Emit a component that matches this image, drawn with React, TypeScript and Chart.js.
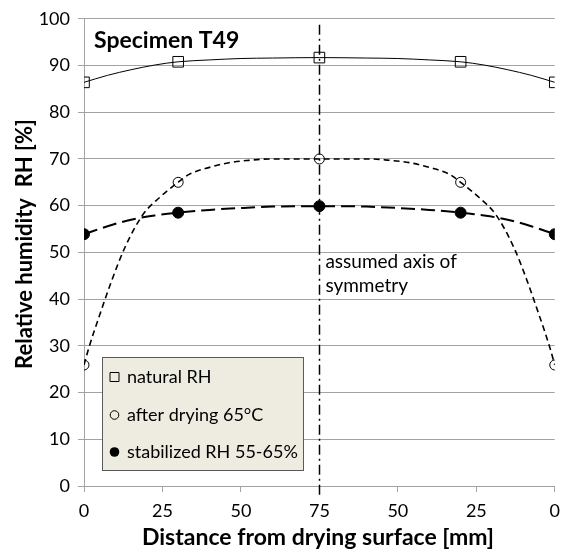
import React, { useEffect, useRef } from 'react';
import { Chart, registerables } from 'chart.js';

Chart.register(...registerables);

// measured points
const markerX = [0, 30, 75, 120, 150];
const naturalRH = [86.4, 90.8, 91.7, 90.8, 86.4];
const afterDrying = [25.9, 65.0, 70.0, 65.0, 25.9];
const stabilizedRH = [53.9, 58.5, 59.9, 58.5, 53.9];

// fitted curves
const smoothX = [0, 7.5, 15, 22.5, 30, 40, 50, 60, 75, 90, 100, 110, 120, 127.5, 135, 142.5, 150];
const naturalCurve = [86.4, 87.9, 89.1, 90.1, 90.8, 91.2, 91.5, 91.6, 91.7, 91.6, 91.5, 91.2, 90.8, 90.1, 89.1, 87.9, 86.4];
const stabilizedCurve = [53.9, 55.6, 57.0, 57.9, 58.5, 59.1, 59.5, 59.8, 59.9, 59.8, 59.5, 59.1, 58.5, 57.9, 57.0, 55.6, 53.9];
const dryingX = [0, 1.6, 5.1, 8.8, 13, 18.8, 24, 30, 33.5, 40, 46.2, 52.5, 59, 75, 91, 97.5, 103.8, 110, 116.5, 120, 126, 131.2, 137, 141.2, 144.9, 148.4, 150];
const dryingCurve = [25.9, 29.7, 36.8, 43.9, 51.0, 58.1, 61.7, 65.0, 66.7, 68.2, 69.2, 69.7, 70.0, 70.0, 70.0, 69.7, 69.2, 68.2, 66.7, 65.0, 61.7, 58.1, 51.0, 43.9, 36.8, 29.7, 25.9];

const xTickValues = [0, 25, 50, 75, 100, 125, 150];
const xTickLabels = ['0', '25', '50', '75', '50', '25', '0'];
const legendLabels = ['natural RH', 'after drying 65°C', 'stabilized RH 55-65%'];
const symmetryX = 75;
const titleText = 'Specimen T49';
const annotationLines = ['assumed axis of', 'symmetry'];
const xTitle = 'Distance from drying surface [mm]';
const yTitle = 'Relative humidity  RH [%]';

const FONT = 'Lato, "Open Sans", sans-serif';
const GRID = '#a3a3a3';

const toPts = (xs: number[], ys: number[]) => xs.map((x, i) => ({ x, y: ys[i] }));

const decorPlugin = {
  id: 'decor',
  beforeDatasetsDraw(chart: any) {
    const { ctx, scales, chartArea } = chart;
    const x = Math.round(scales.x.getPixelForValue(symmetryX)) + 0.5;
    ctx.save();
    ctx.strokeStyle = '#000';
    ctx.lineWidth = 1.5;
    ctx.setLineDash([10, 4, 2, 4]);
    ctx.beginPath();
    ctx.moveTo(x, scales.y.getPixelForValue(98.7));
    ctx.lineTo(x, chartArea.bottom + 12);
    ctx.stroke();
    ctx.restore();
  },
  afterDatasetsDraw(chart: any) {
    const { ctx, scales, chartArea } = chart;
    ctx.save();
    // title
    ctx.fillStyle = '#000';
    ctx.font = `bold 23px ${FONT}`;
    ctx.textBaseline = 'middle';
    ctx.textAlign = 'left';
    ctx.fillText(titleText, chartArea.left + 10, 41);
    // annotation
    ctx.font = `19px ${FONT}`;
    const ax = scales.x.getPixelForValue(symmetryX) + 6;
    ctx.fillText(annotationLines[0], ax, 262);
    ctx.fillText(annotationLines[1], ax, 286);
    // legend box
    const bx = 102.5, by = 357.5, bw = 201, bh = 113;
    ctx.fillStyle = '#EEECE1';
    ctx.fillRect(bx, by, bw, bh);
    ctx.strokeStyle = '#5a5a5a';
    ctx.lineWidth = 1;
    ctx.strokeRect(bx, by, bw, bh);
    const rows = [377, 415, 452];
    rows.forEach((ry, i) => {
      const mx = 114.5;
      ctx.strokeStyle = '#000';
      ctx.fillStyle = '#000';
      ctx.lineWidth = 1;
      ctx.beginPath();
      if (i === 0) {
        ctx.rect(mx - 4.5, ry - 4.5, 9, 9);
        ctx.stroke();
      } else if (i === 1) {
        ctx.arc(mx, ry, 4.3, 0, Math.PI * 2);
        ctx.stroke();
      } else {
        ctx.arc(mx, ry, 4.8, 0, Math.PI * 2);
        ctx.fill();
      }
      ctx.fillStyle = '#000';
      ctx.font = `18px ${FONT}`;
      ctx.textAlign = 'left';
      ctx.textBaseline = 'middle';
      ctx.fillText(legendLabels[i], 127, ry);
    });
    // axis titles
    ctx.font = `bold 23px ${FONT}`;
    ctx.textAlign = 'center';
    ctx.fillText(xTitle, 318, 538);
    ctx.font = `bold 22px ${FONT}`;
    ctx.translate(25, 244);
    ctx.rotate(-Math.PI / 2);
    ctx.fillText(yTitle, 0, 0);
    ctx.restore();
  },
};

export default function App() {
  const ref = useRef<HTMLCanvasElement | null>(null);
  useEffect(() => {
    document.body.style.margin = '0';
    const canvas = ref.current!;
    const chart = new Chart(canvas, {
      type: 'scatter',
      data: {
        datasets: [
          {
            data: toPts(smoothX, naturalCurve),
            showLine: true,
            borderColor: '#000',
            borderWidth: 1,
            pointRadius: 0,
            cubicInterpolationMode: 'monotone',
          },
          {
            data: toPts(dryingX, dryingCurve),
            showLine: true,
            borderColor: '#000',
            borderWidth: 1.6,
            borderDash: [6, 4],
            pointRadius: 0,
            cubicInterpolationMode: 'monotone',
          },
          {
            data: toPts(smoothX, stabilizedCurve),
            showLine: true,
            borderColor: '#000',
            borderWidth: 2,
            borderDash: [14, 6],
            pointRadius: 0,
            cubicInterpolationMode: 'monotone',
          },
          {
            data: toPts(markerX, naturalRH),
            showLine: false,
            pointStyle: 'rect',
            pointRadius: 7.5,
            borderColor: '#000',
            borderWidth: 1,
            backgroundColor: 'rgba(0,0,0,0)',
          },
          {
            data: toPts(markerX, afterDrying),
            showLine: false,
            pointStyle: 'circle',
            pointRadius: 5,
            borderColor: '#000',
            borderWidth: 1,
            backgroundColor: 'rgba(0,0,0,0)',
          },
          {
            data: toPts(markerX, stabilizedRH),
            showLine: false,
            pointStyle: 'circle',
            pointRadius: 5.5,
            borderColor: '#000',
            borderWidth: 1,
            backgroundColor: '#000',
          },
        ],
      },
      options: {
        animation: false,
        responsive: false,
        maintainAspectRatio: false,
        events: [],
        layout: { padding: { top: 17, right: 10, left: 0, bottom: 0 } },
        plugins: {
          legend: { display: false },
          tooltip: { enabled: false },
        },
        scales: {
          x: {
            type: 'linear',
            min: 0,
            max: 150,
            afterFit: (s: any) => { s.height = 66; },
            afterBuildTicks: (s: any) => { s.ticks = xTickValues.map((v) => ({ value: v })); },
            ticks: {
              color: '#000',
              font: { family: FONT, size: 18 },
              padding: 8,
              maxRotation: 0,
              callback: (v: any) => {
                const i = xTickValues.indexOf(Number(v));
                return i >= 0 ? xTickLabels[i] : '';
              },
            },
            grid: { drawOnChartArea: false, drawTicks: true, tickLength: 6, color: GRID },
            border: { color: GRID, width: 1 },
          },
          y: {
            type: 'linear',
            min: 0,
            max: 100,
            afterFit: (s: any) => { s.width = 84; },
            ticks: {
              stepSize: 10,
              color: '#000',
              font: { family: FONT, size: 18 },
              padding: 8,
            },
            grid: { color: GRID, tickLength: 6, drawTicks: true },
            border: { color: GRID, width: 1 },
          },
        },
      },
      plugins: [decorPlugin],
    });
    return () => chart.destroy();
  }, []);
  return (
    <div style={{ width: 568, height: 552, position: 'relative', background: '#fff' }}>
      <canvas ref={ref} width={568} height={552} style={{ display: 'block' }} />
    </div>
  );
}
